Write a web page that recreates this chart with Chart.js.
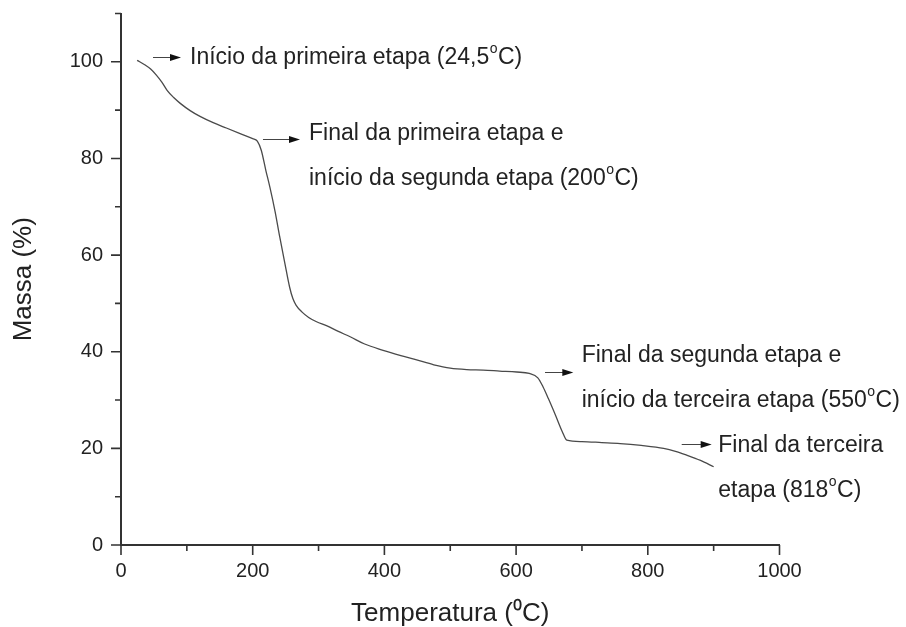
<!DOCTYPE html>
<html>
<head>
<meta charset="utf-8">
<script src="https://cdn.jsdelivr.net/npm/chart.js@4.4.1/dist/chart.umd.min.js"></script>
<style>
  html, body { margin: 0; padding: 0; background: #ffffff; }
  #wrap { width: 906px; height: 627px; }
</style>
</head>
<body>
<div id="wrap"><canvas id="tga" width="906" height="627"></canvas></div>
<script>
// Thermogravimetric curve: temperature (°C) and remaining mass (%)
const temperature = [
  24.5, 36, 45, 54, 62, 70, 80, 90, 105, 120, 140, 160, 180, 200, 207,
  213, 220, 226, 234, 241, 249, 256, 261, 266, 275, 285, 297, 312, 330,
  348, 370, 398, 425, 449, 475, 500, 525, 550, 575, 601, 620, 633,
  641, 649, 660, 670, 677, 700, 730, 758, 790, 824, 842, 859, 880, 900
];
const mass = [
  100.3, 99.4, 98.5, 97.2, 95.8, 94.1, 92.6, 91.4, 89.9, 88.7, 87.4, 86.3, 85.2, 84.1, 83.6,
  81.7, 77.5, 74.1, 69.0, 63.8, 58.2, 53.4, 51.0, 49.6, 48.2, 47.1, 46.2, 45.4, 44.2,
  43.1, 41.6, 40.3, 39.2, 38.3, 37.3, 36.6, 36.3, 36.2, 36.0, 35.8, 35.5, 34.6,
  32.7, 30.3, 26.8, 23.5, 21.7, 21.4, 21.2, 21.0, 20.6, 20.0, 19.4, 18.6, 17.5, 16.2
];

// Axis ticks
const xTickLabels = [0, 200, 400, 600, 800, 1000];
const xMinorTicks = [100, 300, 500, 700, 900];
const yTickLabels = [0, 20, 40, 60, 80, 100];
const yMinorTicks = [10, 30, 50, 70, 90, 110];

// Stage notes: arrow (x0 -> x1 at y) and text anchor, all in axis units
const noteLines = [
  ['Início da primeira etapa (24,5°C)'],
  ['Final da primeira etapa e', 'início da segunda etapa (200°C)'],
  ['Final da segunda etapa e', 'início da terceira etapa (550°C)'],
  ['Final da terceira', 'etapa (818°C)']
];
const noteArrowX0 = [48.6, 215.6, 643.9, 851.5];
const noteArrowX1 = [91.1, 271.8, 686.9, 897.0];
const noteArrowY  = [101.0, 84.1, 35.8, 21.0];
const noteTextX   = [104.8, 285.5, 699.6, 907.1];
const noteTextY   = [99.6, 83.8, 37.9, 19.3];

const INK = '#222222';
const AXIS = '#333333';
const FONT = '"Liberation Sans", Arial, Helvetica, sans-serif';

// Draw a line of text where "°" is rendered as a raised small "o"
function drawDegreeText(ctx, str, x, y, size) {
  const parts = str.split('°');
  let cx = x;
  ctx.textBaseline = 'alphabetic';
  ctx.textAlign = 'left';
  parts.forEach((p, i) => {
    ctx.font = size + 'px ' + FONT;
    ctx.fillText(p, cx, y);
    cx += ctx.measureText(p).width;
    if (i < parts.length - 1) {
      const s = Math.round(size * 0.62);
      ctx.font = s + 'px ' + FONT;
      ctx.fillText('o', cx + 0.5, y - size * 0.48);
      cx += ctx.measureText('o').width + 1;
    }
  });
}

const axisTicksPlugin = {
  id: 'axisTicks',
  afterDraw(chart) {
    const { ctx, scales: { x, y } } = chart;
    const bottom = y.getPixelForValue(0);
    const left = x.getPixelForValue(0);
    ctx.save();
    ctx.strokeStyle = AXIS;
    ctx.lineWidth = 1.6;
    ctx.beginPath();
    xTickLabels.forEach(v => { const px = x.getPixelForValue(v); ctx.moveTo(px, bottom); ctx.lineTo(px, bottom + 10); });
    xMinorTicks.forEach(v => { const px = x.getPixelForValue(v); ctx.moveTo(px, bottom); ctx.lineTo(px, bottom + 6); });
    yTickLabels.forEach(v => { const py = y.getPixelForValue(v); ctx.moveTo(left, py); ctx.lineTo(left - 10, py); });
    yMinorTicks.forEach(v => { const py = y.getPixelForValue(v); ctx.moveTo(left, py); ctx.lineTo(left - 6, py); });
    ctx.stroke();
    ctx.restore();
  }
};

const notesPlugin = {
  id: 'stageNotes',
  afterDatasetsDraw(chart) {
    const { ctx, scales: { x, y } } = chart;
    ctx.save();
    noteLines.forEach((lines, i) => {
      const ax0 = x.getPixelForValue(noteArrowX0[i]);
      const ax1 = x.getPixelForValue(noteArrowX1[i]);
      const ay = Math.round(y.getPixelForValue(noteArrowY[i])) + 0.5;
      ctx.strokeStyle = '#444444';
      ctx.lineWidth = 1;
      ctx.beginPath();
      ctx.moveTo(ax0, ay);
      ctx.lineTo(ax1 - 8, ay);
      ctx.stroke();
      ctx.fillStyle = '#111111';
      ctx.beginPath();
      ctx.moveTo(ax1, ay);
      ctx.lineTo(ax1 - 11, ay - 3.5);
      ctx.lineTo(ax1 - 11, ay + 3.5);
      ctx.closePath();
      ctx.fill();
      const tx = x.getPixelForValue(noteTextX[i]);
      const ty = y.getPixelForValue(noteTextY[i]);
      ctx.fillStyle = INK;
      lines.forEach((ln, k) => drawDegreeText(ctx, ln, tx, ty + k * 45, 23));
    });
    ctx.restore();
  }
};

new Chart(document.getElementById('tga'), {
  type: 'line',
  data: {
    datasets: [{
      data: temperature.map((t, i) => ({ x: t, y: mass[i] })),
      borderColor: '#4a4a4a',
      borderWidth: 1.3,
      pointRadius: 0,
      fill: false,
      cubicInterpolationMode: 'monotone'
    }]
  },
  options: {
    responsive: false,
    devicePixelRatio: 1,
    animation: false,
    layout: { padding: { top: 13.5, right: 126.5, left: 0, bottom: 0 } },
    plugins: { legend: { display: false }, tooltip: { enabled: false } },
    scales: {
      x: {
        type: 'linear',
        min: 0,
        max: 1000,
        afterBuildTicks: s => { s.ticks = xTickLabels.map(v => ({ value: v })); },
        afterFit: s => { s.height = 82; s.paddingLeft = 0; s.paddingRight = 0; },
        grid: { display: false, drawTicks: false },
        border: { display: true, color: AXIS, width: 2 },
        ticks: { color: INK, padding: 14, font: { family: FONT, size: 20 }, callback: v => String(v) },
        title: {
          display: true,
          text: 'Temperatura (\u2070C)',
          color: INK,
          font: { family: FONT, size: 26, lineHeight: 1 },
          padding: 0
        }
      },
      y: {
        type: 'linear',
        min: 0,
        max: 110,
        afterBuildTicks: s => { s.ticks = yTickLabels.map(v => ({ value: v })); },
        afterFit: s => { s.width = 121; s.paddingTop = 0; s.paddingBottom = 0; },
        grid: { display: false, drawTicks: false },
        border: { display: true, color: AXIS, width: 2 },
        ticks: { color: INK, padding: 18, font: { family: FONT, size: 20 }, callback: v => String(v) },
        title: {
          display: true,
          text: 'Massa (%)',
          color: INK,
          font: { family: FONT, size: 26, lineHeight: 1.2 },
          padding: { top: 8.5, bottom: 0 }
        }
      }
    }
  },
  plugins: [axisTicksPlugin, notesPlugin]
});
</script>
</body>
</html>
